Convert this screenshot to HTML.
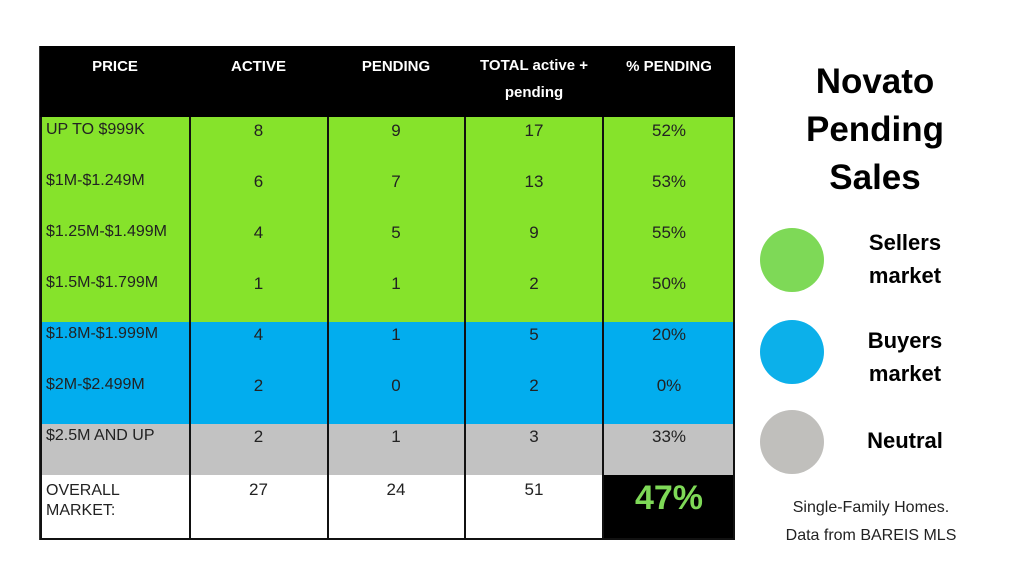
<!DOCTYPE html>
<html><head><meta charset="utf-8"><style>
body{margin:0;width:1024px;height:576px;background:#fff;position:relative;overflow:hidden;font-family:"Liberation Sans",sans-serif}
.a{position:absolute}
.cell{position:absolute;text-align:center;font-size:17px;color:#222}
.hd{position:absolute;color:#fff;font-weight:bold;font-size:15px;text-align:center}
.vl{position:absolute;width:2px;background:#111;top:117px;height:423px}
.lt{position:absolute;left:46px;font-size:16px;color:#222}
.leg{position:absolute;font-weight:bold;font-size:22px;text-align:center;width:140px;left:835px;line-height:33px;color:#000}
.dot{position:absolute;width:64px;height:64px;border-radius:50%;left:760px}
</style></head><body>
<div class="a" style="left:39px;top:46px;width:696px;height:494px;border:1px solid #333;box-sizing:border-box;background:#fff">
</div>
<div class="a" style="left:40px;top:46px;width:695px;height:71px;background:#000"></div>
<div class="a" style="left:40px;top:117px;width:695px;height:205px;background:#86e32b"></div>
<div class="a" style="left:40px;top:322px;width:695px;height:102px;background:#02adee"></div>
<div class="a" style="left:40px;top:424px;width:695px;height:51px;background:#c2c2c2"></div>
<div class="a" style="left:603px;top:475px;width:132px;height:65px;background:#000"></div>
<div class="vl" style="left:40px"></div><div class="vl" style="left:189px"></div><div class="vl" style="left:327px"></div><div class="vl" style="left:464px"></div><div class="vl" style="left:602px"></div><div class="vl" style="left:733px"></div>
<div class="a" style="left:40px;top:538px;width:695px;height:2px;background:#111"></div>
<div class="hd" style="left:40px;top:58px;width:150px">PRICE</div>
<div class="hd" style="left:190px;top:58px;width:137px">ACTIVE</div>
<div class="hd" style="left:327px;top:58px;width:138px">PENDING</div>
<div class="hd" style="left:465px;top:58px;width:138px;line-height:27px;margin-top:-6px">TOTAL active +<br>pending</div>
<div class="hd" style="left:603px;top:58px;width:132px">% PENDING</div>
<div id="rows"></div>
<div class="a" style="left:46px;top:481px;font-size:16px;line-height:20px;color:#222">OVERALL<br>MARKET:</div>
<div class="cell" style="left:190px;top:480px;width:137px">27</div>
<div class="cell" style="left:327px;top:480px;width:138px">24</div>
<div class="cell" style="left:465px;top:480px;width:138px">51</div>
<div class="a" style="left:603px;top:479px;width:132px;text-align:center;font-size:34px;font-weight:bold;color:#7ed957">47%</div>
<div class="a" style="left:790px;top:58px;width:170px;text-align:center;font-size:35px;font-weight:bold;line-height:48px">Novato<br>Pending<br>Sales</div>
<div class="dot" style="top:228px;background:#7ed957"></div>
<div class="dot" style="top:320px;background:#0cb0ea"></div>
<div class="dot" style="top:410px;background:#c0bfbc"></div>
<div class="leg" style="top:226px">Sellers<br>market</div>
<div class="leg" style="top:324px">Buyers<br>market</div>
<div class="leg" style="top:424px">Neutral</div>
<div class="a" style="left:770px;top:494px;width:202px;text-align:center;font-size:16px;line-height:28px;color:#222">Single-Family Homes.<br>Data from BAREIS MLS</div>
<script>
const labels=["UP TO $999K","$1M-$1.249M","$1.25M-$1.499M","$1.5M-$1.799M","$1.8M-$1.999M","$2M-$2.499M","$2.5M AND UP"];
const active=[8,6,4,1,4,2,2];
const pending=[9,7,5,1,1,0,1];
const total=[17,13,9,2,5,2,3];
const pct=["52%","53%","55%","50%","20%","0%","33%"];
const root=document.getElementById('rows');
labels.forEach((l,i)=>{
  const y=121+i*51;
  const cols=[[46,null,l],[190,137,active[i]],[327,138,pending[i]],[465,138,total[i]],[603,132,pct[i]]];
  cols.forEach((c,j)=>{
    const d=document.createElement('div');
    d.className=j===0?'lt':'cell';
    d.style.top=y+'px';
    if(j>0){d.style.left=c[0]+'px';d.style.width=c[1]+'px';}
    d.textContent=c[2];
    
    
    root.appendChild(d);
  });
});
</script>
</body></html>
